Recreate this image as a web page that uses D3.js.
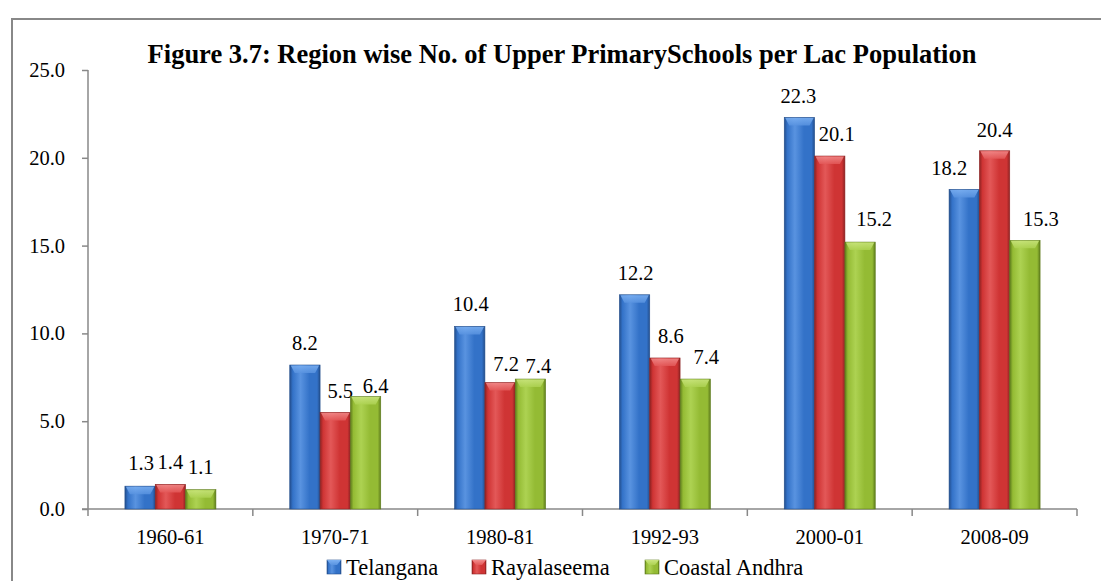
<!DOCTYPE html>
<html>
<head>
<meta charset="utf-8">
<script src="https://cdn.jsdelivr.net/npm/d3@7/dist/d3.min.js"></script>
<style>
  html, body { margin: 0; padding: 0; background: #fff; }
  svg { display: block; }
</style>
</head>
<body>
<svg id="chart" width="1101" height="581"></svg>
<script>
// Upper primary schools per lakh population, by region
const periods = ["1960-61", "1970-71", "1980-81", "1992-93", "2000-01", "2008-09"];
const regions = ["Telangana", "Rayalaseema", "Coastal Andhra"];
const telangana   = [1.3, 8.2, 10.4, 12.2, 22.3, 18.2];
const rayalaseema = [1.4, 5.5, 7.2, 8.6, 20.1, 20.4];
const coastal     = [1.1, 6.4, 7.4, 7.4, 15.2, 15.3];
const yTicks = [0, 5, 10, 15, 20, 25];
const titleText = "Figure 3.7: Region wise No. of Upper PrimarySchools per Lac Population";

const FONT = "'Liberation Serif', 'Times New Roman', serif";
const seriesValues = [telangana, rayalaseema, coastal];
const palette = [
  { dark: "#234e8c", mid: "#3372c8", light: "#5993e0", top: "#7bb0f2" },
  { dark: "#8e2222", mid: "#cf3434", light: "#e35858", top: "#f28c8c" },
  { dark: "#5e7c1c", mid: "#94bb34", light: "#add252", top: "#cae57e" }
];

// Hand-placed value labels: horizontal nudge and gap above the bar top (px)
const labelLayout = {
  dx:  [[1, 0, 1, 1, -1, -15], [0, 5, 6, 6, 7, 0], [0, 10, 8, 11, 14, 16]],
  gap: [[16, 15, 15, 15, 14, 14], [15, 14, 12, 15, 15, 14], [16, 4, 6, 15, 16, 14]]
};

const svg = d3.select("#chart");
const defs = svg.append("defs");

palette.forEach((c, i) => {
  const g = defs.append("linearGradient").attr("id", "body" + i)
    .attr("x1", "0").attr("x2", "1").attr("y1", "0").attr("y2", "0");
  [[0, c.dark], [0.1, c.mid], [0.35, c.light], [0.65, c.mid], [0.9, c.mid], [1, c.dark]]
    .forEach(([o, col]) => g.append("stop").attr("offset", o).attr("stop-color", col));
  const t = defs.append("linearGradient").attr("id", "top" + i)
    .attr("x1", "0").attr("x2", "0").attr("y1", "0").attr("y2", "1");
  t.append("stop").attr("offset", 0).attr("stop-color", c.top);
  t.append("stop").attr("offset", 1).attr("stop-color", c.light);
});

// Outer frame
svg.append("rect")
  .attr("x", 12).attr("y", 19).attr("width", 1110).attr("height", 600)
  .attr("fill", "none").attr("stroke", "#888").attr("stroke-width", 2);

const plot = { left: 88, right: 1077, top: 70, bottom: 509 };

const x = d3.scaleBand().domain(periods).range([plot.left, plot.right]);
const xs = d3.scaleBand().domain(regions).range([0, 91]);
const y = d3.scaleLinear().domain([0, 25]).range([plot.bottom, plot.top]);

// Title
svg.append("text")
  .attr("x", 562).attr("y", 63)
  .attr("text-anchor", "middle")
  .style("font-family", FONT)
  .style("font-size", "26.5px").style("font-weight", "bold")
  .text(titleText);

// Y axis
const yAxis = svg.append("g").attr("transform", `translate(${plot.left},0)`)
  .call(d3.axisLeft(y).tickValues(yTicks).tickSize(6).tickPadding(17).tickFormat(d3.format(".1f")));
yAxis.selectAll("text").style("font-size", "20.5px").style("font-family", FONT).attr("fill", "#000");
yAxis.selectAll("line, path").attr("stroke", "#888").attr("stroke-width", 1.5);
yAxis.select(".domain").attr("d", `M0,${plot.top}V${plot.bottom}`);

// X axis with ticks at category boundaries
const xAxis = svg.append("g").attr("transform", `translate(0,${plot.bottom})`);
xAxis.append("line").attr("x1", plot.left - 6).attr("x2", plot.right)
  .attr("stroke", "#888").attr("stroke-width", 1.5);
const bounds = periods.map(p => x(p)).concat([plot.right]);
xAxis.selectAll("line.tick").data(bounds).join("line").attr("class", "tick")
  .attr("x1", d => d).attr("x2", d => d).attr("y1", 0).attr("y2", 7)
  .attr("stroke", "#888").attr("stroke-width", 1.5);
xAxis.selectAll("text").data(periods).join("text")
  .attr("x", d => x(d) + x.bandwidth() / 2).attr("y", 35)
  .attr("text-anchor", "middle")
  .style("font-family", FONT).style("font-size", "20.5px")
  .text(d => d);

// Bars
const barW = xs.bandwidth();
const groupOff = (x.bandwidth() - 91) / 2;
regions.forEach((r, si) => {
  const g = svg.append("g");
  const data = periods.map((p, i) => ({ p, i, v: seriesValues[si][i] }));
  const bx = d => x(d.p) + groupOff + xs(r);
  g.selectAll("rect").data(data).join("rect")
    .attr("x", bx).attr("y", d => y(d.v))
    .attr("width", barW).attr("height", d => y(0) - y(d.v))
    .attr("fill", `url(#body${si})`)
    .attr("stroke", palette[si].dark).attr("stroke-width", 0.6);
  g.selectAll("polygon").data(data).join("polygon")
    .attr("points", d => {
      const x0 = bx(d), y0 = y(d.v), h = Math.min(8, (y(0) - y(d.v)) / 2);
      return `${x0 + 1},${y0 + 0.5} ${x0 + barW - 1},${y0 + 0.5} ${x0 + barW - 5},${y0 + h} ${x0 + 5},${y0 + h}`;
    })
    .attr("fill", `url(#top${si})`).attr("opacity", 0.85);
  g.selectAll("text").data(data).join("text")
    .attr("x", d => bx(d) + barW / 2 + labelLayout.dx[si][d.i])
    .attr("y", d => y(d.v) - labelLayout.gap[si][d.i])
    .attr("text-anchor", "middle")
    .style("font-family", FONT).style("font-size", "20.5px")
    .text(d => d.v.toFixed(1));
});

// Legend
const legendX = [327, 472, 645];
const legend = svg.append("g");
regions.forEach((r, i) => {
  legend.append("rect").attr("x", legendX[i]).attr("y", 560).attr("width", 14).attr("height", 14)
    .attr("fill", `url(#body${i})`).attr("stroke", palette[i].dark).attr("stroke-width", 0.6);
  legend.append("polygon")
    .attr("points", `${legendX[i]},560 ${legendX[i] + 14},560 ${legendX[i] + 10},565 ${legendX[i] + 4},565`)
    .attr("fill", `url(#top${i})`);
  legend.append("text").attr("x", legendX[i] + 19).attr("y", 575)
    .style("font-family", FONT).style("font-size", "22.5px")
    .text(r);
});
</script>
</body>
</html>
